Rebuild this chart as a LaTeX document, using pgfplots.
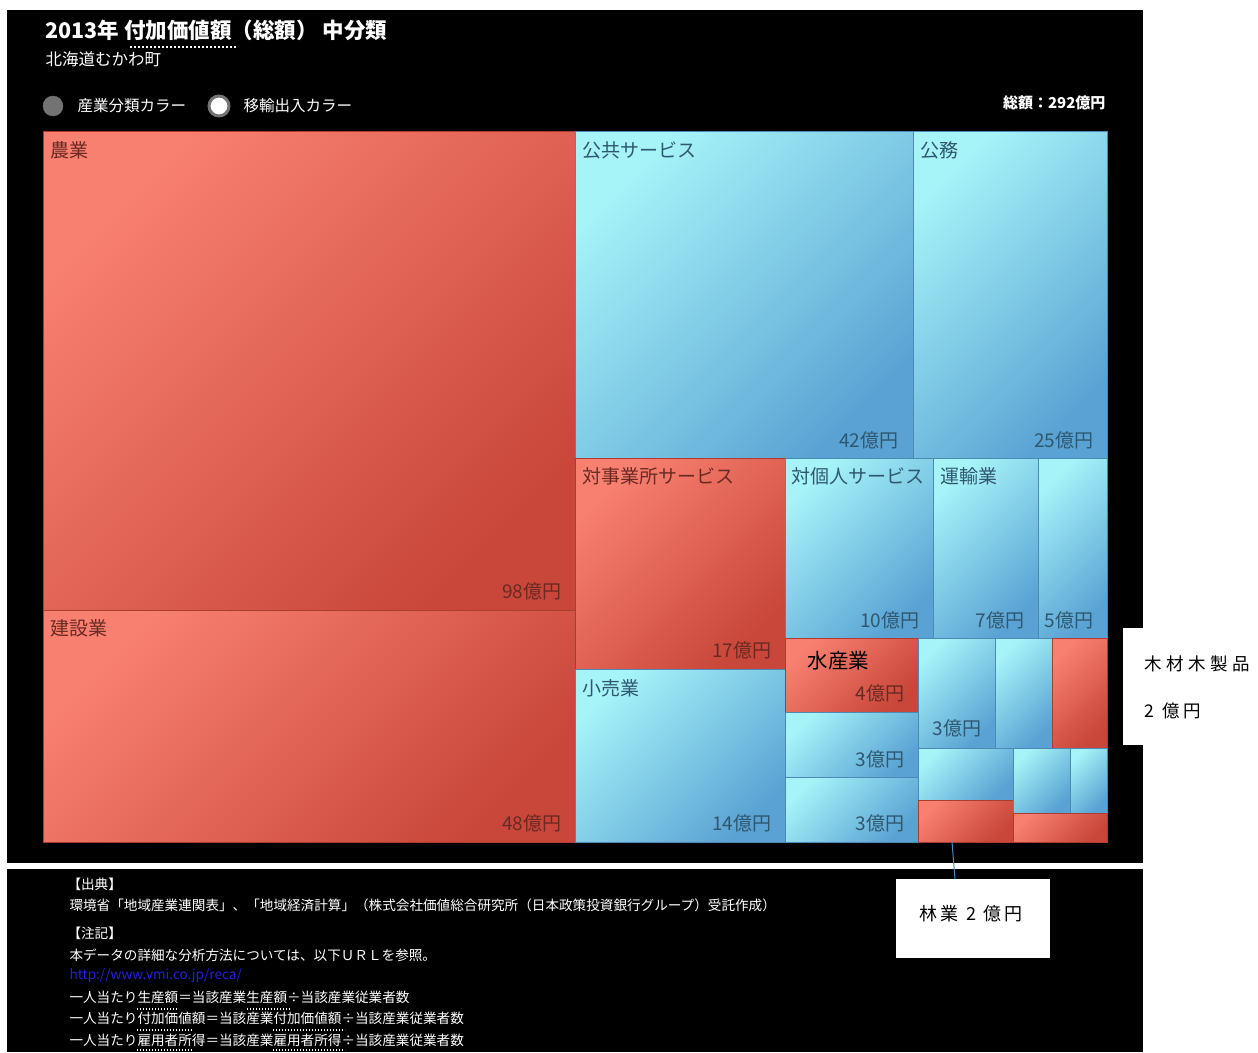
\documentclass[border=0pt]{standalone}
\usepackage{fontspec}
\setmainfont{Noto Sans CJK JP}
\usepackage{pgfplots}
\pgfplotsset{compat=1.18}
\definecolor{redA}{HTML}{F88070}
\definecolor{redB}{HTML}{C8463A}
\definecolor{bluA}{HTML}{A6F3F8}
\definecolor{bluB}{HTML}{5AA2D3}
\definecolor{redtxt}{HTML}{6A2A22}
\definecolor{blutxt}{HTML}{2E5870}
\definecolor{linkblue}{HTML}{2222DD}
\tikzset{
  redtile/.style={top color=redA, bottom color=redB, shading angle=45, draw=redB!85!black, line width=0.7pt},
  blutile/.style={top color=bluA, bottom color=bluB, shading angle=45, draw=bluB!85!black, line width=0.7pt},
  nm/.style={anchor=west, font=\fontsize{19}{22}\selectfont},
  val/.style={anchor=east, font=\fontsize{19}{22}\selectfont},
  foot/.style={anchor=west, text=white, font=\fontsize{13.6}{16}\selectfont},
}
\begin{document}
\begin{tikzpicture}
\begin{axis}[width=1258pt, height=1052pt, scale only axis,
  xmin=0, xmax=1258, ymin=0, ymax=1052, y dir=reverse,
  hide axis, clip=false]
% background
\addplot[fill=white, draw=none] coordinates {(0,0) (1258,0) (1258,1052) (0,1052)} -- cycle;
\addplot[fill=black, draw=none] coordinates {(7,10) (1143,10) (1143,863) (7,863)} -- cycle;
\addplot[fill=black, draw=none] coordinates {(7,869) (1143,869) (1143,1052) (7,1052)} -- cycle;
% treemap tiles
\addplot[redtile] coordinates {(43,131) (575,131) (575,610) (43,610)} -- cycle;   % 農業 98
\addplot[redtile] coordinates {(43,610) (575,610) (575,842) (43,842)} -- cycle;   % 建設業 48
\addplot[blutile] coordinates {(575,131) (913,131) (913,458) (575,458)} -- cycle; % 公共サービス 42
\addplot[blutile] coordinates {(913,131) (1107,131) (1107,458) (913,458)} -- cycle; % 公務 25
\addplot[redtile] coordinates {(575,458) (785,458) (785,669) (575,669)} -- cycle; % 対事業所サービス 17
\addplot[blutile] coordinates {(575,669) (785,669) (785,842) (575,842)} -- cycle; % 小売業 14
\addplot[blutile] coordinates {(785,458) (933,458) (933,638) (785,638)} -- cycle; % 対個人サービス 10
\addplot[blutile] coordinates {(933,458) (1038,458) (1038,638) (933,638)} -- cycle; % 運輸業 7
\addplot[blutile] coordinates {(1038,458) (1107,458) (1107,638) (1038,638)} -- cycle; % 5
\addplot[redtile] coordinates {(785,638) (918,638) (918,712) (785,712)} -- cycle; % 水産業 4
\addplot[blutile] coordinates {(785,712) (918,712) (918,777) (785,777)} -- cycle; % 3
\addplot[blutile] coordinates {(785,777) (918,777) (918,842) (785,842)} -- cycle; % 3
\addplot[blutile] coordinates {(918,638) (995,638) (995,748) (918,748)} -- cycle; % 3
\addplot[blutile] coordinates {(995,638) (1052,638) (1052,748) (995,748)} -- cycle; % 
\addplot[redtile] coordinates {(1052,638) (1107,638) (1107,748) (1052,748)} -- cycle; % 木材木製品 2
\addplot[blutile] coordinates {(918,748) (1013,748) (1013,800) (918,800)} -- cycle;
\addplot[redtile] coordinates {(918,800) (1013,800) (1013,842) (918,842)} -- cycle; % 林業 2
\addplot[blutile] coordinates {(1013,748) (1070,748) (1070,813) (1013,813)} -- cycle;
\addplot[blutile] coordinates {(1070,748) (1107,748) (1107,813) (1070,813)} -- cycle;
\addplot[redtile] coordinates {(1013,813) (1107,813) (1107,842) (1013,842)} -- cycle;
% legend radio buttons
\addplot[only marks, mark=*, mark size=10pt, mark options={fill=black!55, draw=black!55}] coordinates {(53,106)};
\addplot[only marks, mark=*, mark size=10pt, mark options={fill=white, draw=black!55, line width=3pt}] coordinates {(219,106)};
% connector line
\addplot[color={rgb,255:red,70;green,140;blue,200}, line width=1pt] coordinates {(952,842) (955,879)};
% callout boxes
\addplot[fill=white, draw=none] coordinates {(1123,628) (1258,628) (1258,745) (1123,745)} -- cycle;
\addplot[fill=white, draw=none] coordinates {(896,879) (1050,879) (1050,958) (896,958)} -- cycle;

% title
\node[anchor=west, text=white, font=\bfseries\fontsize{21.5}{25}\selectfont] at (axis cs:42,30) {2013年 付加価値額（総額） 中分類};
\draw[white, line width=2pt, dash pattern=on 2pt off 2pt] (axis cs:130,47) -- (axis cs:236,47);
\node[anchor=west, text=white, font=\fontsize{16.5}{20}\selectfont] at (axis cs:42,59) {北海道むかわ町};
\node[anchor=west, text=white, font=\fontsize{15.5}{18}\selectfont] at (axis cs:74,106) {産業分類カラー};
\node[anchor=west, text=white, font=\fontsize{15.5}{18}\selectfont] at (axis cs:240,106) {移輸出入カラー};
\node[anchor=east, text=white, font=\bfseries\fontsize{15}{18}\selectfont] at (axis cs:1109,103) {総額：292億円};

% tile names
\node[nm, text=redtxt] at (axis cs:47,150) {農業};
\node[nm, text=redtxt] at (axis cs:47,628) {建設業};
\node[nm, text=blutxt] at (axis cs:579,150) {公共サービス};
\node[nm, text=blutxt] at (axis cs:917,150) {公務};
\node[nm, text=redtxt] at (axis cs:579,476) {対事業所サービス};
\node[nm, text=blutxt] at (axis cs:579,688) {小売業};
\node[nm, text=blutxt] at (axis cs:788,476) {対個人サービス};
\node[nm, text=blutxt] at (axis cs:937,476) {運輸業};
\node[anchor=west, text=black, font=\fontsize{20.5}{24}\selectfont] at (axis cs:804,661) {水産業};
% values
\node[val, text=redtxt] at (axis cs:565,591) {98億円};
\node[val, text=redtxt] at (axis cs:565,823) {48億円};
\node[val, text=blutxt] at (axis cs:902,440) {42億円};
\node[val, text=blutxt] at (axis cs:1097,440) {25億円};
\node[val, text=redtxt] at (axis cs:775,650) {17億円};
\node[val, text=blutxt] at (axis cs:775,823) {14億円};
\node[val, text=blutxt] at (axis cs:923,620) {10億円};
\node[val, text=blutxt] at (axis cs:1028,620) {7億円};
\node[val, text=blutxt] at (axis cs:1097,620) {5億円};
\node[val, text=redtxt] at (axis cs:908,693) {4億円};
\node[val, text=blutxt] at (axis cs:908,759) {3億円};
\node[val, text=blutxt] at (axis cs:908,823) {3億円};
\node[val, text=blutxt] at (axis cs:985,728) {3億円};

% callout texts
\node[anchor=west, text=black, font=\fontsize{17.5}{20}\selectfont] at (axis cs:1141,664) {\addfontfeature{LetterSpace=25}木材木製品};
\node[anchor=west, text=black, font=\fontsize{17.5}{20}\selectfont] at (axis cs:1141,711) {\addfontfeature{LetterSpace=22}2 億円};
\node[anchor=west, text=black, font=\fontsize{18}{21}\selectfont] at (axis cs:916,914) {\addfontfeature{LetterSpace=18}林業 2 億円};

% footer
\node[foot] at (axis cs:64,884) {【出典】};
\node[foot] at (axis cs:66,905) {環境省「地域産業連関表」、「地域経済計算」（株式会社価値総合研究所（日本政策投資銀行グループ）受託作成）};
\node[foot] at (axis cs:64,933) {【注記】};
\node[foot] at (axis cs:66,955) {本データの詳細な分析方法については、以下ＵＲＬを参照。};
\node[foot, text=linkblue] at (axis cs:66,976) {http://www.vmi.co.jp/reca/};
\node[foot] at (axis cs:66,997) {一人当たり生産額＝当該産業生産額÷当該産業従業者数};
\node[foot] at (axis cs:66,1018) {一人当たり付加価値額＝当該産業付加価値額÷当該産業従業者数};
\node[foot] at (axis cs:66,1040) {一人当たり雇用者所得＝当該産業雇用者所得÷当該産業従業者数};
\draw[white, line width=1.3pt, dash pattern=on 1.3pt off 1.7pt] (axis cs:137,1009) -- (axis cs:177,1009);
\draw[white, line width=1.3pt, dash pattern=on 1.3pt off 1.7pt] (axis cs:247,1009) -- (axis cs:290,1009);
\draw[white, line width=1.3pt, dash pattern=on 1.3pt off 1.7pt] (axis cs:137,1030) -- (axis cs:193,1030);
\draw[white, line width=1.3pt, dash pattern=on 1.3pt off 1.7pt] (axis cs:273,1030) -- (axis cs:345,1030);
\draw[white, line width=1.3pt, dash pattern=on 1.3pt off 1.7pt] (axis cs:137,1050) -- (axis cs:193,1050);
\draw[white, line width=1.3pt, dash pattern=on 1.3pt off 1.7pt] (axis cs:273,1050) -- (axis cs:345,1050);
\end{axis}
\end{tikzpicture}
\end{document}
